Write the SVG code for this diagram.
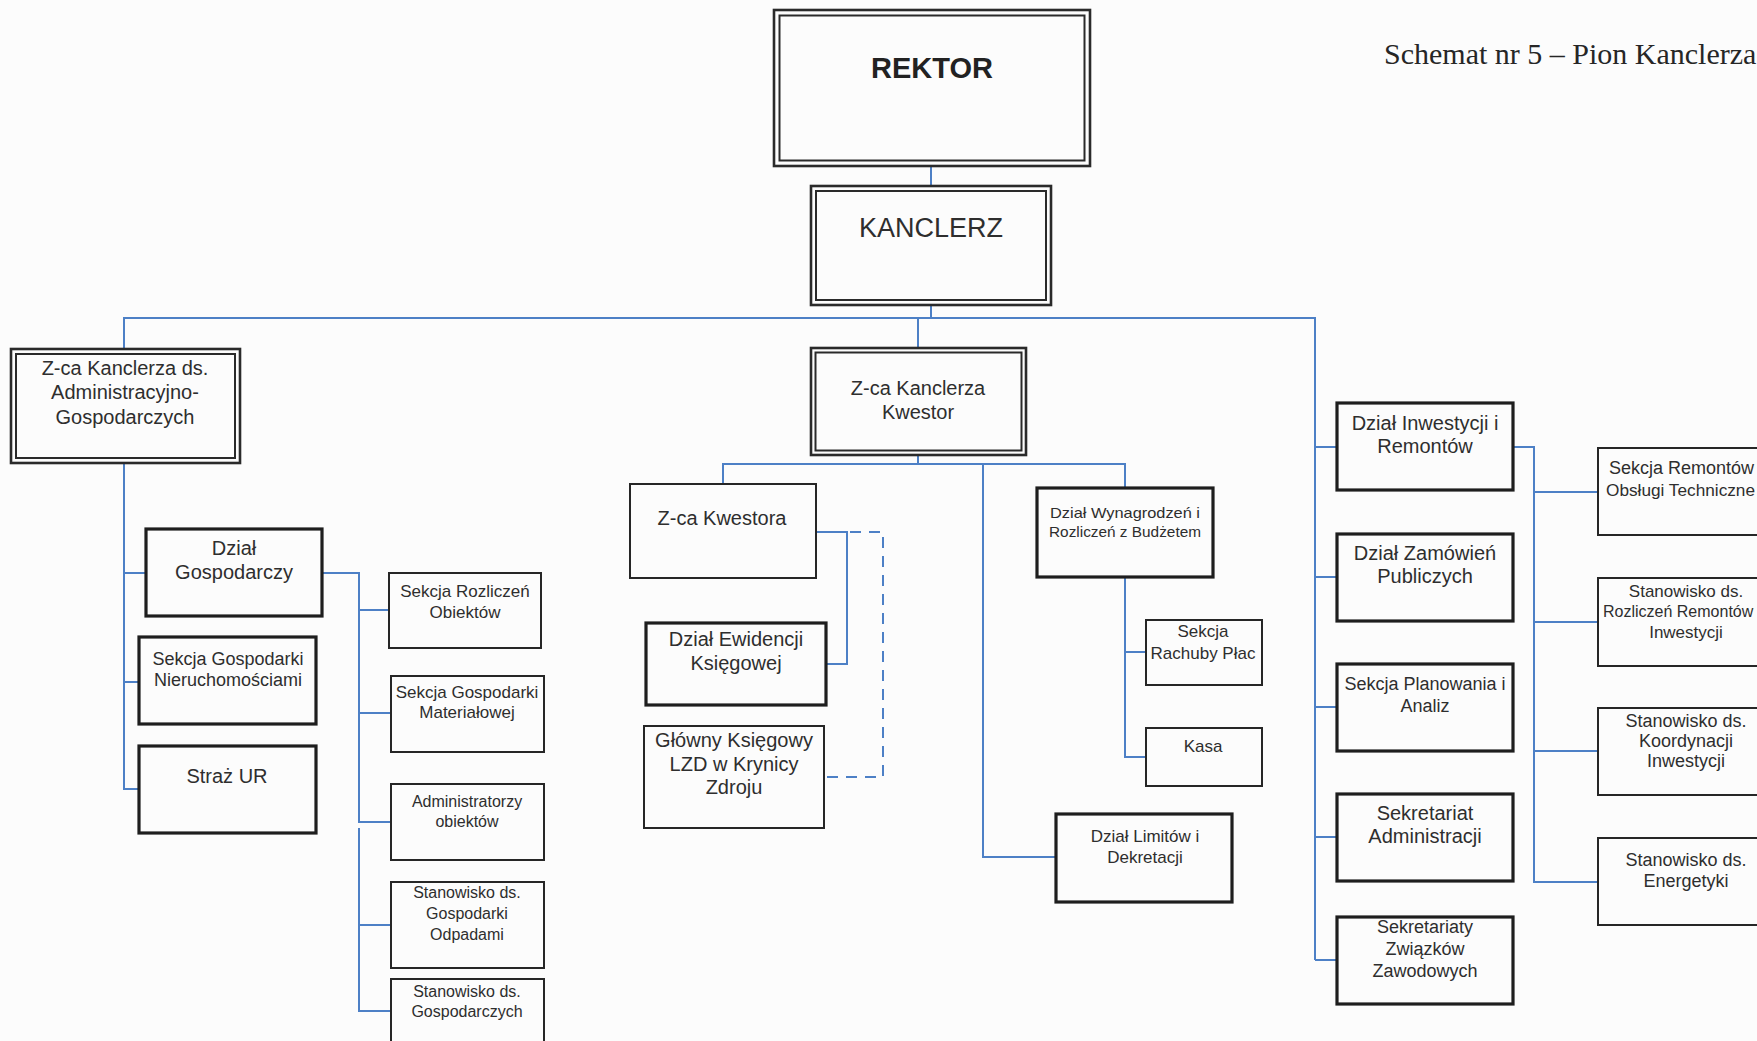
<svg xmlns="http://www.w3.org/2000/svg" width="1757" height="1041" viewBox="0 0 1757 1041">
<style>
.ln{stroke:#4d80c6;stroke-width:2;fill:none}
.dash{stroke-dasharray:11 8}
.bx{fill:none;stroke:#262626;stroke-width:2}
.bt{fill:none;stroke:#1e1e1e;stroke-width:3.2}
.bo{fill:none;stroke:#2a2a2a;stroke-width:2.6}
.bi{fill:none;stroke:#2a2a2a;stroke-width:2}
text{font-family:"Liberation Sans",Arial,sans-serif;fill:#2e2e2e;text-anchor:middle}
.f15{font-size:15px}
.f16{font-size:16px}
.f17{font-size:17px}
.f18{font-size:18px}
.f20{font-size:20px}
.st{text-anchor:start}
.title{font-family:"Liberation Serif","Times New Roman",serif;font-size:30px;text-anchor:start;fill:#262626}
</style>
<rect x="0" y="0" width="1757" height="1041" fill="#fcfcfc"/>

<text class="title" x="1384" y="64">Schemat nr 5 – Pion Kanclerza</text>

<g id="connectors">
  <path class="ln" d="M931,167 V186"/>
  <path class="ln" d="M931,306 V318"/>
  <path class="ln" d="M124,348 V318 H1315 V960"/>
  <path class="ln" d="M918,318 V347"/>
  <path class="ln" d="M124,464 V789 H139"/>
  <path class="ln" d="M124,573 H146"/>
  <path class="ln" d="M124,682 H139"/>
  <path class="ln" d="M322,573 H359 V823"/>
  <path class="ln" d="M359,828 V1011 H391"/>
  <path class="ln" d="M359,610 H389"/>
  <path class="ln" d="M359,713 H391"/>
  <path class="ln" d="M359,822 H391"/>
  <path class="ln" d="M359,925 H391"/>
  <path class="ln" d="M918,456 V464"/>
  <path class="ln" d="M723,484 V464 H1125 V488"/>
  <path class="ln" d="M983,464 V857 H1056"/>
  <path class="ln" d="M816,532 H847 V664 H826"/>
  <path class="ln dash" d="M850,532 H883 V777 H826"/>
  <path class="ln" d="M1125,577 V757 H1146"/>
  <path class="ln" d="M1125,652 H1146"/>
  <path class="ln" d="M1315,447 H1337"/>
  <path class="ln" d="M1315,577 H1337"/>
  <path class="ln" d="M1315,707 H1337"/>
  <path class="ln" d="M1315,837 H1337"/>
  <path class="ln" d="M1315,960 H1337"/>
  <path class="ln" d="M1513,447 H1534 V882 H1598"/>
  <path class="ln" d="M1534,492 H1598"/>
  <path class="ln" d="M1534,622 H1598"/>
  <path class="ln" d="M1534,751 H1598"/>
</g>

<g id="rektor">
  <rect class="bo" x="774" y="10" width="316" height="156"/>
  <rect class="bi" x="779.5" y="15.5" width="305" height="145"/>
  <text x="932" y="78" style="font-size:29px;font-weight:bold;fill:#222">REKTOR</text>
</g>
<g id="kanclerz">
  <rect class="bo" x="811" y="186" width="240" height="119"/>
  <rect class="bi" x="816" y="191" width="230" height="109"/>
  <text x="931" y="237" style="font-size:27px">KANCLERZ</text>
</g>

<g id="zca-ag">
  <rect class="bo" x="11" y="349" width="229" height="114"/>
  <rect class="bi" x="16" y="354" width="219" height="104"/>
  <text class="f20" x="125" y="375">Z-ca Kanclerza ds.</text>
  <text class="f20" x="125" y="399">Administracyjno-</text>
  <text class="f20" x="125" y="424">Gospodarczych</text>
</g>
<g id="dzial-gospodarczy">
  <rect class="bt" x="146" y="529" width="176" height="87"/>
  <text class="f20" x="234" y="555">Dział</text>
  <text class="f20" x="234" y="579">Gospodarczy</text>
</g>
<g id="sekcja-nieruchomosci">
  <rect class="bt" x="139" y="637" width="177" height="87"/>
  <text class="f18" x="228" y="665">Sekcja Gospodarki</text>
  <text class="f18" x="228" y="686">Nieruchomościami</text>
</g>
<g id="straz-ur">
  <rect class="bt" x="139" y="746" width="177" height="87"/>
  <text class="f20" x="227" y="783">Straż UR</text>
</g>
<g id="sekcja-rozliczen-obiektow">
  <rect class="bx" x="389" y="573" width="152" height="75"/>
  <text class="f17" x="465" y="597">Sekcja Rozliczeń</text>
  <text class="f17" x="465" y="618">Obiektów</text>
</g>
<g id="sekcja-materialowej">
  <rect class="bx" x="391" y="676" width="153" height="76"/>
  <text class="f17" x="467" y="698">Sekcja Gospodarki</text>
  <text class="f17" x="467" y="718">Materiałowej</text>
</g>
<g id="administratorzy">
  <rect class="bx" x="391" y="784" width="153" height="76"/>
  <text class="f16" x="467" y="807">Administratorzy</text>
  <text class="f16" x="467" y="827">obiektów</text>
</g>
<g id="stanowisko-odpady">
  <rect class="bx" x="391" y="882" width="153" height="86"/>
  <text class="f16" x="467" y="898">Stanowisko ds.</text>
  <text class="f16" x="467" y="919">Gospodarki</text>
  <text class="f16" x="467" y="940">Odpadami</text>
</g>
<g id="stanowisko-gospodarczych">
  <path class="bx" d="M391,1045 V979 H544 V1045"/>
  <text class="f16" x="467" y="997">Stanowisko ds.</text>
  <text class="f16" x="467" y="1017">Gospodarczych</text>
</g>

<g id="kwestor">
  <rect class="bo" x="811" y="348" width="215" height="107"/>
  <rect class="bi" x="815.5" y="352.5" width="206" height="98"/>
  <text class="f20" x="918" y="395">Z-ca Kanclerza</text>
  <text class="f20" x="918" y="419">Kwestor</text>
</g>
<g id="zca-kwestora">
  <rect class="bx" x="630" y="484" width="186" height="94"/>
  <text class="f20" x="722" y="525">Z-ca Kwestora</text>
</g>
<g id="dzial-ewidencji">
  <rect class="bt" x="646" y="623" width="180" height="82"/>
  <text class="f20" x="736" y="646">Dział Ewidencji</text>
  <text class="f20" x="736" y="670">Księgowej</text>
</g>
<g id="glowny-ksiegowy">
  <rect class="bx" x="644" y="726" width="180" height="102"/>
  <text class="f20" x="734" y="747">Główny Księgowy</text>
  <text class="f20" x="734" y="771">LZD w Krynicy</text>
  <text class="f20" x="734" y="794">Zdroju</text>
</g>
<g id="dzial-wynagrodzen">
  <rect class="bt" x="1037" y="488" width="176" height="89"/>
  <text class="f15" x="1125" y="518" textLength="150" lengthAdjust="spacingAndGlyphs">Dział Wynagrodzeń i</text>
  <text class="f15" x="1125" y="537" textLength="152" lengthAdjust="spacingAndGlyphs">Rozliczeń z Budżetem</text>
</g>
<g id="sekcja-rachuby">
  <rect class="bx" x="1146" y="620" width="116" height="65"/>
  <text class="f17" x="1203" y="637">Sekcja</text>
  <text class="f17" x="1203" y="659">Rachuby Płac</text>
</g>
<g id="kasa">
  <rect class="bx" x="1146" y="728" width="116" height="58"/>
  <text class="f17" x="1203" y="752">Kasa</text>
</g>
<g id="dzial-limitow">
  <rect class="bt" x="1056" y="814" width="176" height="88"/>
  <text class="f17" x="1145" y="842">Dział Limitów i</text>
  <text class="f17" x="1145" y="863">Dekretacji</text>
</g>

<g id="dzial-inwestycji">
  <rect class="bt" x="1337" y="403" width="176" height="87"/>
  <text class="f20" x="1425" y="430">Dział Inwestycji i</text>
  <text class="f20" x="1425" y="453">Remontów</text>
</g>
<g id="dzial-zamowien">
  <rect class="bt" x="1337" y="534" width="176" height="87"/>
  <text class="f20" x="1425" y="560">Dział Zamówień</text>
  <text class="f20" x="1425" y="583">Publiczych</text>
</g>
<g id="sekcja-planowania">
  <rect class="bt" x="1337" y="664" width="176" height="87"/>
  <text class="f18" x="1425" y="690">Sekcja Planowania i</text>
  <text class="f18" x="1425" y="712">Analiz</text>
</g>
<g id="sekretariat-administracji">
  <rect class="bt" x="1337" y="794" width="176" height="87"/>
  <text class="f20" x="1425" y="820">Sekretariat</text>
  <text class="f20" x="1425" y="843">Administracji</text>
</g>
<g id="sekretariaty-zwiazkow">
  <rect class="bt" x="1337" y="917" width="176" height="87"/>
  <text class="f18" x="1425" y="933">Sekretariaty</text>
  <text class="f18" x="1425" y="955">Związków</text>
  <text class="f18" x="1425" y="977">Zawodowych</text>
</g>

<g id="sekcja-remontow">
  <path class="bx" d="M1757,448 H1598 V535 H1757"/>
  <text class="f18 st" x="1609" y="474">Sekcja Remontów</text>
  <text class="f17 st" x="1606" y="496" textLength="149" lengthAdjust="spacingAndGlyphs">Obsługi Techniczne</text>
</g>
<g id="stanowisko-rozliczen">
  <path class="bx" d="M1757,578 H1598 V666 H1757"/>
  <text class="f17" x="1686" y="597">Stanowisko ds.</text>
  <text class="f16 st" x="1603" y="617">Rozliczeń Remontów</text>
  <text class="f17" x="1686" y="638">Inwestycji</text>
</g>
<g id="stanowisko-koordynacji">
  <path class="bx" d="M1757,708 H1598 V795 H1757"/>
  <text class="f18" x="1686" y="727">Stanowisko ds.</text>
  <text class="f18" x="1686" y="747">Koordynacji</text>
  <text class="f18" x="1686" y="767">Inwestycji</text>
</g>
<g id="stanowisko-energetyki">
  <path class="bx" d="M1757,838 H1598 V925 H1757"/>
  <text class="f18" x="1686" y="866">Stanowisko ds.</text>
  <text class="f18" x="1686" y="887">Energetyki</text>
</g>
</svg>
